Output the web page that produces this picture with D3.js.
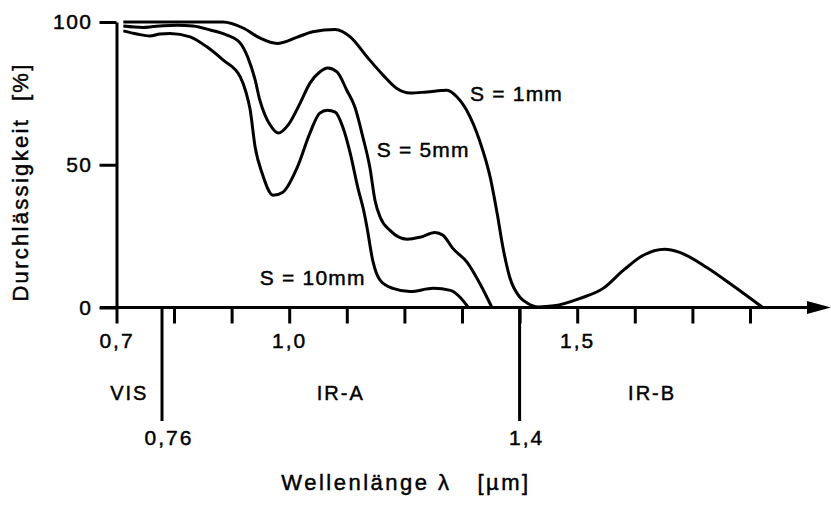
<!DOCTYPE html>
<html>
<head>
<meta charset="utf-8">
<script src="https://cdn.jsdelivr.net/npm/d3@7"></script>
<style>
  body { margin: 0; background: #fff; }
  svg { display: block; }
  text { font-family: "Liberation Sans", Arial, sans-serif; fill: #000; stroke: #000; stroke-width: 0.45px; }
</style>
</head>
<body>
<script>
// wavelength (µm) and transmission (%), one pair per thickness
var wl1 = [0.709, 0.885, 0.920, 0.949, 0.979, 1.014, 1.041, 1.080, 1.106, 1.135, 1.163, 1.187, 1.210, 1.239, 1.274, 1.291, 1.314, 1.336, 1.349, 1.361, 1.371, 1.383, 1.401, 1.413, 1.432, 1.460, 1.505, 1.545, 1.580, 1.614, 1.652, 1.678, 1.725, 1.770, 1.822];
var t1 = [100, 100, 97.9, 94.4, 92.5, 94.7, 96.6, 97.4, 94.8, 87.8, 81.4, 76.7, 75.1, 75.5, 76.1, 73.8, 66.8, 55.1, 45.6, 33.0, 21.1, 10.5, 3.5, 1.6, 0.2, 0.6, 3.2, 6.7, 13.0, 18.2, 20.4, 19.3, 14.0, 7.7, 0];

var wl5 = [0.709, 0.735, 0.748, 0.763, 0.805, 0.833, 0.863, 0.892, 0.915, 0.928, 0.941, 0.949, 0.958, 0.967, 0.981, 0.998, 1.019, 1.036, 1.053, 1.067, 1.083, 1.100, 1.114, 1.128, 1.140, 1.149, 1.158, 1.175, 1.205, 1.227, 1.253, 1.267, 1.284, 1.309, 1.331, 1.352];
var t5 = [98.6, 98.1, 98.4, 98.7, 98.9, 98.6, 97.2, 95.4, 92.6, 87.7, 79.6, 72.6, 67.4, 63.9, 61.1, 63.9, 71.6, 78.6, 82.5, 83.9, 82.5, 76.1, 70.2, 59.6, 49.1, 37.5, 31.6, 27.0, 23.9, 24.6, 26.3, 25.3, 20.7, 15.8, 8.4, 0];

var wl10 = [0.709, 0.727, 0.744, 0.757, 0.787, 0.828, 0.857, 0.885, 0.915, 0.925, 0.932, 0.941, 0.953, 0.972, 0.989, 1.014, 1.036, 1.053, 1.066, 1.080, 1.093, 1.106, 1.119, 1.130, 1.135, 1.145, 1.158, 1.180, 1.210, 1.250, 1.280, 1.297, 1.311];
var t10 = [96.9, 95.8, 95.1, 95.8, 96.0, 94.8, 91.3, 86.7, 80.8, 75.4, 69.5, 56.0, 47.0, 39.3, 40.4, 49.1, 61.1, 68.1, 69.1, 68.4, 63.2, 54.0, 42.1, 33.3, 28.1, 16.5, 9.5, 6.7, 5.6, 6.7, 6.0, 3.5, 0];

var seriesNames = ["S = 1mm", "S = 5mm", "S = 10mm"];

var xTicks = [0.7, 0.8, 0.9, 1.0, 1.1, 1.2, 1.3, 1.4, 1.5, 1.6, 1.7, 1.8];
var xTickLabels = ["0,7", "", "", "1,0", "", "", "", "", "1,5", "", "", ""];
var yTicks = [0, 50, 100];
var bounds = [0.76, 1.4];
var boundLabels = ["0,76", "1,4"];
var regions = ["VIS", "IR-A", "IR-B"];

window.onload = drawChart();

function drawChart(){
    var width = 831,
        height = 505;

    var svg = d3.select("body")
        .append("svg")
        .attr("width", width)
        .attr("height", height);

    // the printed scale is stretched a little around 0.76
    var x = d3.scaleLinear()
        .domain([0.7, 0.76, 0.8, 1.8])
        .range([116.5, 162, 174, 750]);

    var y = d3.scaleLinear()
        .domain([0, 100])
        .range([307.5, 22]);

    // y axis
    var yAxis = svg.append("g")
        .attr("transform", "translate(" + x(0.7) + ",0)")
        .call(d3.axisLeft(y).tickValues(yTicks).tickSize(17).tickSizeOuter(0).tickPadding(7));
    yAxis.selectAll("path, line").attr("stroke", "#000").attr("stroke-width", 3);
    yAxis.selectAll("text").style("font-size", "21px").attr("letter-spacing", "1.5px");

    // x axis ticks (the domain line is drawn separately with its arrow)
    var xAxis = svg.append("g")
        .attr("transform", "translate(0," + y(0) + ")")
        .call(d3.axisBottom(x).tickValues(xTicks).tickSize(16).tickPadding(10)
            .tickFormat(function(d, i){ return xTickLabels[i]; }));
    xAxis.select(".domain").remove();
    xAxis.selectAll("line").attr("stroke", "#000").attr("stroke-width", 3);
    xAxis.selectAll("text").style("font-size", "21px").attr("letter-spacing", "2px");

    svg.append("line")
        .attr("x1", 100).attr("x2", 810)
        .attr("y1", y(0)).attr("y2", y(0))
        .attr("stroke", "#000").attr("stroke-width", 3);
    svg.append("path")
        .attr("d", "M831," + y(0) + "L807," + (y(0) - 6.5) + "L807," + (y(0) + 6.5) + "Z")
        .attr("fill", "#000");

    // VIS / IR-A / IR-B boundaries
    bounds.forEach(function(b, i){
        svg.append("line")
            .attr("x1", x(b)).attr("x2", x(b))
            .attr("y1", y(0)).attr("y2", 421)
            .attr("stroke", "#000").attr("stroke-width", 3);
        svg.append("text")
            .attr("x", x(b) + 7).attr("y", 445)
            .attr("text-anchor", "middle")
            .style("font-size", "21px").attr("letter-spacing", "2px")
            .text(boundLabels[i]);
    });

    var edges = [0.7, bounds[0], bounds[1], 1.86];
    var regionShift = [-10, 0, 0];
    regions.forEach(function(r, i){
        svg.append("text")
            .attr("x", (x(edges[i]) + x(edges[i + 1])) / 2 + regionShift[i])
            .attr("y", 400)
            .attr("text-anchor", "middle")
            .style("font-size", "20px").attr("letter-spacing", "2px")
            .text(r);
    });

    // curves
    var line = d3.line()
        .x(function(d){ return x(d[0]); })
        .y(function(d){ return y(d[1]); })
        .curve(d3.curveMonotoneX);

    var series = [d3.zip(wl1, t1), d3.zip(wl5, t5), d3.zip(wl10, t10)];

    svg.selectAll(".curve")
        .data(series)
        .enter()
        .append("path")
        .attr("class", "curve")
        .attr("d", line)
        .attr("fill", "none")
        .attr("stroke", "#000")
        .attr("stroke-width", 3)
        .attr("stroke-linejoin", "round");

    // curve labels, placed in data units
    var labelX = [1.314, 1.152, 0.949];
    var labelY = [72.5, 52.6, 7.8];
    seriesNames.forEach(function(s, i){
        svg.append("text")
            .attr("x", x(labelX[i])).attr("y", y(labelY[i]))
            .style("font-size", "21px").attr("letter-spacing", "1.2px")
            .attr("xml:space", "preserve")
            .text(s);
    });

    // axis titles
    svg.append("text")
        .attr("transform", "translate(28,182) rotate(-90)")
        .attr("text-anchor", "middle")
        .style("font-size", "22px").attr("letter-spacing", "2.3px")
        .style("white-space", "pre")
        .text("Durchlässigkeit  [%]");

    svg.append("text")
        .attr("x", 406).attr("y", 490)
        .attr("text-anchor", "middle")
        .style("font-size", "22px").attr("letter-spacing", "2.5px")
        .style("white-space", "pre")
        .text("Wellenlänge λ   [µm]");
}
</script>
</body>
</html>
